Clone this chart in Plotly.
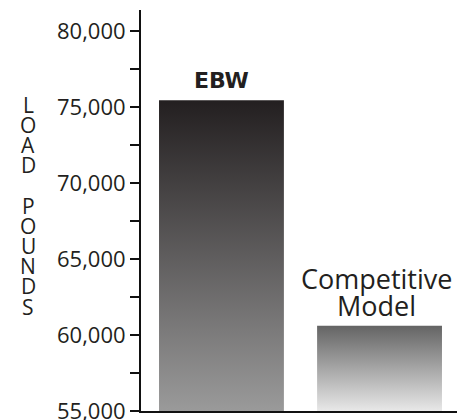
import plotly.graph_objects as go

# ---- data ----
categories = ["EBW", "Competitive<br>Model"]
load_pounds = [75450, 60600]
label_bold = [True, False]
top_colors = ["#231f20", "#646464"]
bottom_colors = ["#9a9a9a", "#e8e8e8"]
y_tick_values = [55000, 60000, 65000, 70000, 75000, 80000]
axis_title_letters = ["L", "O", "A", "D", "", "P", "O", "U", "N", "D", "S"]

# ---- layout constants ----
BASE = 55000
Y_TOP = 81380
BAR_W = 0.79
FONT = "Open Sans"
TXT = "#231f20"
ML, MT = 133, 2

fig = go.Figure()

for i, (cat, v) in enumerate(zip(categories, load_pounds)):
    xs = [i - BAR_W / 2, i + BAR_W / 2, i + BAR_W / 2, i - BAR_W / 2, i - BAR_W / 2]
    ys = [BASE, BASE, v, v, BASE]
    fig.add_trace(go.Scatter(
        x=xs, y=ys, mode="lines", fill="toself",
        line=dict(width=0, color="rgba(0,0,0,0)"),
        fillgradient=dict(type="vertical",
                          colorscale=[[0, bottom_colors[i]], [1, top_colors[i]]],
                          start=BASE, stop=v),
        hoverinfo="skip", showlegend=False,
    ))
    if label_bold[i]:
        fig.add_annotation(x=i, y=v, xref="x", yref="y", text=f"<b>{cat}</b>",
                           showarrow=False, yanchor="bottom", yshift=5,
                           font=dict(family="DejaVu Sans", size=22, color=TXT))
    else:
        lines = cat.split("<br>")
        for j, ln in enumerate(reversed(lines)):
            fig.add_annotation(x=i, y=v, xref="x", yref="y", text=ln,
                               showarrow=False, yanchor="bottom",
                               xshift=-3, yshift=0 + j * 27,
                               font=dict(family=FONT, size=27, color=TXT))

# vertical axis title, one letter per row
for k, ch in enumerate(axis_title_letters):
    if not ch:
        continue
    fig.add_annotation(x=0, xref="paper", xanchor="center", xshift=20 - ML,
                       y=1, yref="paper", yanchor="middle",
                       yshift=-(96.5 + k * 20.2 - MT),
                       text=ch, showarrow=False,
                       font=dict(family=FONT, size=21, color=TXT))

fig.update_layout(
    width=452, height=412,
    margin=dict(l=ML, r=3, t=MT, b=9),
    paper_bgcolor="white", plot_bgcolor="white",
    font=dict(family=FONT, color=TXT),
    xaxis=dict(range=[-0.509, 1.49], showgrid=False, zeroline=False,
               showticklabels=False, ticks="", automargin=False,
               showline=True, linecolor="#111", linewidth=2),
    yaxis=dict(range=[BASE, Y_TOP], showgrid=False, zeroline=False,
               tickvals=y_tick_values, tickformat=",d",
               ticklabeloverflow="allow", automargin=False,
               ticks="outside", ticklen=9, tickwidth=1.5, tickcolor="#111",
               showline=True, linecolor="#111", linewidth=2,
               tickfont=dict(family=FONT, size=22, color=TXT),
               minor=dict(dtick=2500, tick0=0, ticks="outside", ticklen=9,
                          tickwidth=1.5, tickcolor="#111")),
)

fig.write_html("out.html")
